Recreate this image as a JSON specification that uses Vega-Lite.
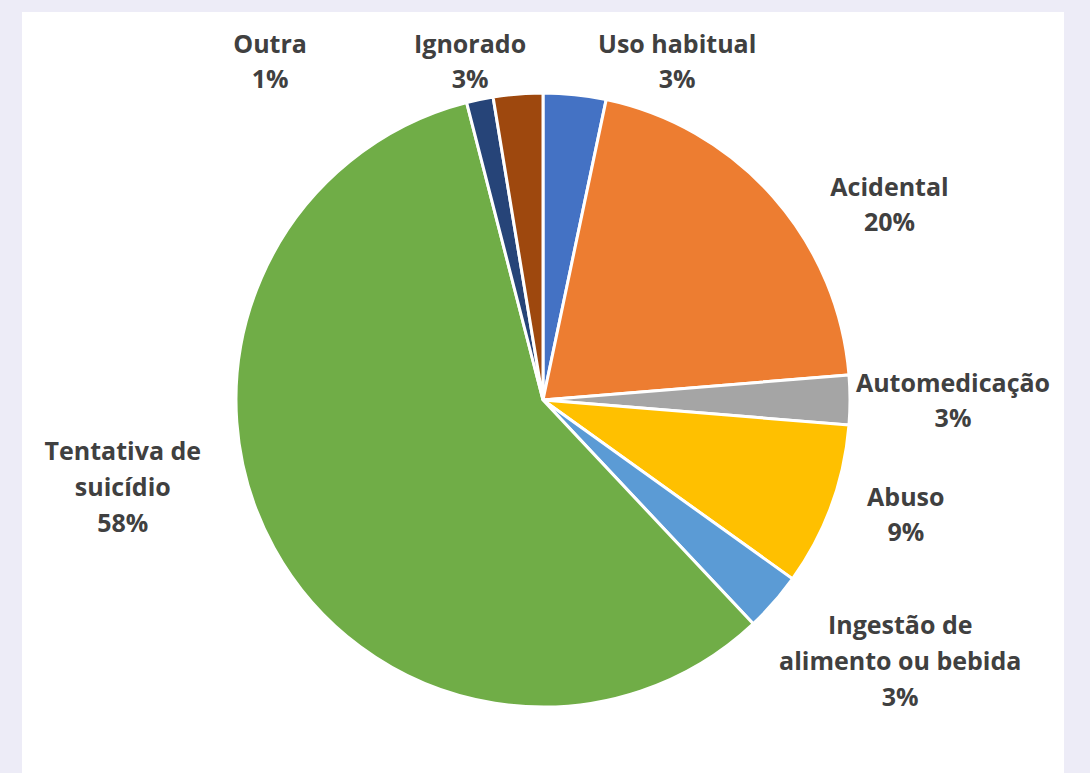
{
  "$schema": "https://vega.github.io/schema/vega-lite/v6.json",
  "width": 1042,
  "height": 776,
  "autosize": {"type": "none"},
  "padding": {"left": 22, "right": 26, "top": 12, "bottom": -15},
  "background": "#EDECF7",
  "view": {"fill": "#FFFFFF", "stroke": null},
  "data": {
    "values": [
      {"categoria": "Uso habitual", "rotulo": "Uso habitual", "valor": 3.3},
      {"categoria": "Acidental", "rotulo": "Acidental", "valor": 20.4},
      {"categoria": "Automedicação", "rotulo": "Automedicação", "valor": 2.6},
      {"categoria": "Abuso", "rotulo": "Abuso", "valor": 8.6},
      {"categoria": "Ingestão de alimento ou bebida", "rotulo": "Ingestão de|alimento ou bebida", "valor": 3.1},
      {"categoria": "Tentativa de suicídio", "rotulo": "Tentativa de|suicídio", "valor": 58.0},
      {"categoria": "Outra", "rotulo": "Outra", "valor": 1.4},
      {"categoria": "Ignorado", "rotulo": "Ignorado", "valor": 2.6}
    ]
  },
  "transform": [
    {"window": [{"op": "row_number", "as": "ordem"}]},
    {"stack": "valor", "groupby": [], "sort": [{"field": "ordem", "order": "ascending"}], "as": ["v0", "v1"]},
    {"calculate": "(datum.v0 + datum.v1) / 2", "as": "meio"},
    {"calculate": "datum.rotulo + '|' + format(datum.valor, '.0f') + '%'", "as": "texto"}
  ],
  "layer": [
    {
      "mark": {"type": "arc", "radius": 307, "stroke": "#FFFFFF", "strokeWidth": 3},
      "encoding": {
        "theta": {"field": "v0", "type": "quantitative", "scale": {"domain": [0, 100]}, "stack": null},
        "theta2": {"field": "v1"},
        "color": {
          "field": "categoria",
          "type": "nominal",
          "scale": {
            "domain": ["Uso habitual", "Acidental", "Automedicação", "Abuso", "Ingestão de alimento ou bebida", "Tentativa de suicídio", "Outra", "Ignorado"],
            "range": ["#4472C4", "#ED7D31", "#A5A5A5", "#FFC000", "#5B9BD5", "#70AD47", "#264478", "#9E480E"]
          },
          "legend": null
        }
      }
    },
    {
      "transform": [{"filter": "datum.categoria === 'Uso habitual'"}],
      "mark": {"type": "text", "radius": 330, "dx": 100, "dy": -27, "font": "Open Sans", "fontWeight": "bold", "fontSize": 25, "lineHeight": 35, "lineBreak": "|", "fill": "#404040", "align": "center", "baseline": "middle"},
      "encoding": {"theta": {"field": "meio", "type": "quantitative", "stack": null}, "text": {"field": "texto"}}
    },
    {
      "transform": [{"filter": "datum.categoria === 'Acidental'"}],
      "mark": {"type": "text", "radius": 330, "dx": 99, "dy": 6, "font": "Open Sans", "fontWeight": "bold", "fontSize": 25, "lineHeight": 35, "lineBreak": "|", "fill": "#404040", "align": "center", "baseline": "middle"},
      "encoding": {"theta": {"field": "meio", "type": "quantitative", "stack": null}, "text": {"field": "texto"}}
    },
    {
      "transform": [{"filter": "datum.categoria === 'Automedicação'"}],
      "mark": {"type": "text", "radius": 330, "dx": 80, "dy": -16, "font": "Open Sans", "fontWeight": "bold", "fontSize": 25, "lineHeight": 35, "lineBreak": "|", "fill": "#404040", "align": "center", "baseline": "middle"},
      "encoding": {"theta": {"field": "meio", "type": "quantitative", "stack": null}, "text": {"field": "texto"}}
    },
    {
      "transform": [{"filter": "datum.categoria === 'Abuso'"}],
      "mark": {"type": "text", "radius": 330, "dx": 53, "dy": -16, "font": "Open Sans", "fontWeight": "bold", "fontSize": 25, "lineHeight": 35, "lineBreak": "|", "fill": "#404040", "align": "center", "baseline": "middle"},
      "encoding": {"theta": {"field": "meio", "type": "quantitative", "stack": null}, "text": {"field": "texto"}}
    },
    {
      "transform": [{"filter": "datum.categoria === 'Ingestão de alimento ou bebida'"}],
      "mark": {"type": "text", "radius": 330, "dx": 109, "dy": 9, "font": "Open Sans", "fontWeight": "bold", "fontSize": 25, "lineHeight": 36, "lineBreak": "|", "fill": "#404040", "align": "center", "baseline": "middle"},
      "encoding": {"theta": {"field": "meio", "type": "quantitative", "stack": null}, "text": {"field": "texto"}}
    },
    {
      "transform": [{"filter": "datum.categoria === 'Tentativa de suicídio'"}],
      "mark": {"type": "text", "radius": 330, "dx": -131, "dy": -107, "font": "Open Sans", "fontWeight": "bold", "fontSize": 25, "lineHeight": 36, "lineBreak": "|", "fill": "#404040", "align": "center", "baseline": "middle"},
      "encoding": {"theta": {"field": "meio", "type": "quantitative", "stack": null}, "text": {"field": "texto"}}
    },
    {
      "transform": [{"filter": "datum.categoria === 'Outra'"}],
      "mark": {"type": "text", "radius": 330, "dx": -205, "dy": -32, "font": "Open Sans", "fontWeight": "bold", "fontSize": 25, "lineHeight": 35, "lineBreak": "|", "fill": "#404040", "align": "center", "baseline": "middle"},
      "encoding": {"theta": {"field": "meio", "type": "quantitative", "stack": null}, "text": {"field": "texto"}}
    },
    {
      "transform": [{"filter": "datum.categoria === 'Ignorado'"}],
      "mark": {"type": "text", "radius": 330, "dx": -46, "dy": -26, "font": "Open Sans", "fontWeight": "bold", "fontSize": 25, "lineHeight": 35, "lineBreak": "|", "fill": "#404040", "align": "center", "baseline": "middle"},
      "encoding": {"theta": {"field": "meio", "type": "quantitative", "stack": null}, "text": {"field": "texto"}}
    }
  ]
}
